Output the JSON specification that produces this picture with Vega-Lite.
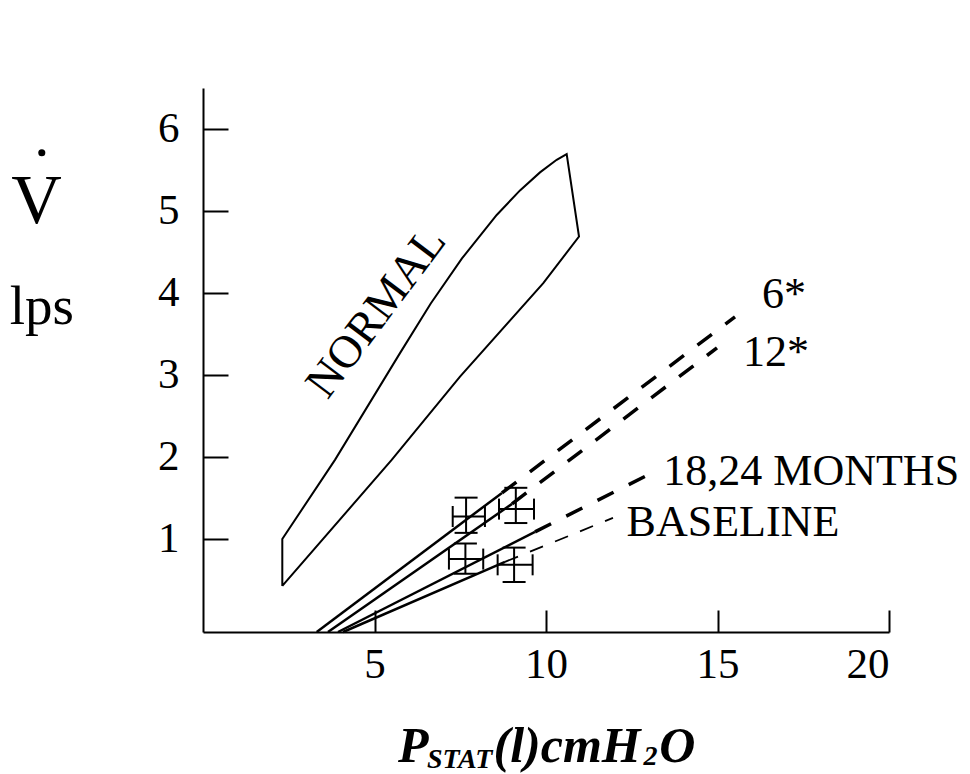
{
  "$schema": "https://vega.github.io/schema/vega-lite/v6.json",
  "width": 686,
  "height": 544,
  "autosize": {"type": "none"},
  "padding": {"left": 203, "top": 88, "right": 81, "bottom": 142},
  "background": "white",
  "config": {
    "view": {"stroke": null},
    "axis": {
      "domainColor": "black", "domainWidth": 2, "tickColor": "black", "tickWidth": 2,
      "labelColor": "black", "labelFont": "Liberation Serif", "labelFontSize": 43,
      "grid": false, "title": null
    }
  },
  "datasets": {
    "normal": [
      {"o": 1, "x": 2.312, "y": 0.422},
      {"o": 2, "x": 2.312, "y": 0.996},
      {"o": 3, "x": 3.848, "y": 1.961},
      {"o": 4, "x": 5.743, "y": 3.264},
      {"o": 5, "x": 6.64, "y": 3.87},
      {"o": 6, "x": 7.55, "y": 4.42},
      {"o": 7, "x": 8.563, "y": 4.95},
      {"o": 8, "x": 9.242, "y": 5.25},
      {"o": 9, "x": 9.825, "y": 5.47},
      {"o": 10, "x": 10.312, "y": 5.624},
      {"o": 11, "x": 10.603, "y": 5.694},
      {"o": 12, "x": 10.962, "y": 4.687},
      {"o": 13, "x": 9.921, "y": 4.118},
      {"o": 14, "x": 7.493, "y": 2.978},
      {"o": 15, "x": 5.501, "y": 1.961},
      {"o": 16, "x": 2.312, "y": 0.422}
    ],
    "lines": [
      {"s": "6*", "p": "solid", "o": 1, "x": 3.315, "y": -0.14},
      {"s": "6*", "p": "solid", "o": 2, "x": 8.717, "y": 1.558},
      {"s": "6*", "p": "dash", "o": 1, "x": 8.717, "y": 1.558},
      {"s": "6*", "p": "dash", "o": 2, "x": 15.51, "y": 3.707},
      {"s": "12*", "p": "solid", "o": 1, "x": 3.644, "y": -0.14},
      {"s": "12*", "p": "solid", "o": 2, "x": 9.009, "y": 1.424},
      {"s": "12*", "p": "dash", "o": 1, "x": 9.009, "y": 1.424},
      {"s": "12*", "p": "dash", "o": 2, "x": 14.985, "y": 3.328},
      {"s": "18,24", "p": "solid", "o": 1, "x": 3.936, "y": -0.14},
      {"s": "18,24", "p": "solid", "o": 2, "x": 9.679, "y": 1.082},
      {"s": "18,24", "p": "dash", "o": 1, "x": 9.679, "y": 1.082},
      {"s": "18,24", "p": "dash", "o": 2, "x": 13.09, "y": 1.802},
      {"s": "BASELINE", "p": "solid", "o": 1, "x": 4.082, "y": -0.14},
      {"s": "BASELINE", "p": "solid", "o": 2, "x": 8.805, "y": 0.716},
      {"s": "BASELINE", "p": "dash", "o": 1, "x": 8.805, "y": 0.716},
      {"s": "BASELINE", "p": "dash", "o": 2, "x": 11.953, "y": 1.253}
    ],
    "crosses": [
      {"x": 7.67, "y": 1.27, "xlo": 7.28, "xhi": 8.22, "ylo": 1.07, "yhi": 1.50},
      {"x": 9.12, "y": 1.36, "xlo": 8.63, "xhi": 9.65, "ylo": 1.19, "yhi": 1.62},
      {"x": 7.65, "y": 0.75, "xlo": 7.17, "xhi": 8.17, "ylo": 0.57, "yhi": 0.94},
      {"x": 9.07, "y": 0.68, "xlo": 8.59, "xhi": 9.61, "ylo": 0.47, "yhi": 0.89}
    ],
    "ann": [
      {"t": "6*", "x": 16.30, "y": 3.82},
      {"t": "12*", "x": 15.74, "y": 3.11},
      {"t": "18,24 MONTHS", "x": 13.42, "y": 1.656},
      {"t": "BASELINE", "x": 12.35, "y": 1.033}
    ],
    "normlab": [{"t": "NORMAL", "x": 5.05, "y": 3.76}],
    "vlab": [{"t": "V", "x": -4.85, "y": 4.855}],
    "vdot": [{"x": -4.70, "y": 5.71}],
    "unit": [{"t": "lps", "x": -4.70, "y": 3.62}],
    "xmain": [
      {"t": "P", "x": 5.685, "y": -1.723},
      {"t": "(l)cmH", "x": 8.47, "y": -1.723},
      {"t": "O", "x": 13.30, "y": -1.723}
    ],
    "xsub": [
      {"t": "STAT", "x": 6.53, "y": -1.80},
      {"t": "2", "x": 12.84, "y": -1.763}
    ]
  },
  "encoding": {
    "x": {"field": "x", "type": "quantitative",
      "scale": {"domain": [0, 20], "nice": false, "zero": false},
      "axis": {"values": [5, 10, 15, 20], "tickSize": -22, "labelPadding": 33, "title": null}},
    "y": {"field": "y", "type": "quantitative",
      "scale": {"domain": [-0.14, 6.5], "nice": false, "zero": false},
      "axis": {"values": [1, 2, 3, 4, 5, 6], "tickSize": -25, "labelPadding": 49, "title": null}}
  },
  "layer": [
    {
      "data": {"name": "normal"},
      "mark": {"type": "line", "color": "black", "strokeWidth": 2},
      "encoding": {"order": {"field": "o", "type": "quantitative"}}
    },
    {
      "data": {"name": "lines"},
      "transform": [{"filter": "datum.p == 'solid'"}],
      "mark": {"type": "line", "color": "black", "strokeWidth": 2.5},
      "encoding": {"detail": {"field": "s"}, "order": {"field": "o", "type": "quantitative"}}
    },
    {
      "data": {"name": "lines"},
      "transform": [{"filter": "datum.p == 'dash' && datum.s != 'BASELINE'"}],
      "mark": {"type": "line", "color": "black", "strokeWidth": 3.5, "strokeDash": [18, 17]},
      "encoding": {"detail": {"field": "s"}, "order": {"field": "o", "type": "quantitative"}}
    },
    {
      "data": {"name": "lines"},
      "transform": [{"filter": "datum.p == 'dash' && datum.s == 'BASELINE'"}],
      "mark": {"type": "line", "color": "black", "strokeWidth": 1.8, "strokeDash": [14, 13]},
      "encoding": {"detail": {"field": "s"}, "order": {"field": "o", "type": "quantitative"}}
    },
    {
      "data": {"name": "crosses"},
      "mark": {"type": "rule", "color": "black", "strokeWidth": 2},
      "encoding": {"y": {"field": "ylo", "type": "quantitative"}, "y2": {"field": "yhi"}}
    },
    {
      "data": {"name": "crosses"},
      "mark": {"type": "rule", "color": "black", "strokeWidth": 2},
      "encoding": {"x": {"field": "xlo", "type": "quantitative"}, "x2": {"field": "xhi"}}
    },
    {
      "data": {"name": "crosses"},
      "transform": [{"fold": ["ylo", "yhi"], "as": ["k", "yv"]}],
      "mark": {"type": "tick", "orient": "horizontal", "size": 23, "thickness": 2, "color": "black", "opacity": 1},
      "encoding": {"y": {"field": "yv", "type": "quantitative"}}
    },
    {
      "data": {"name": "crosses"},
      "transform": [{"fold": ["xlo", "xhi"], "as": ["k", "xv"]}],
      "mark": {"type": "tick", "orient": "vertical", "size": 21, "thickness": 2, "color": "black", "opacity": 1},
      "encoding": {"x": {"field": "xv", "type": "quantitative"}}
    },
    {
      "data": {"name": "ann"},
      "mark": {"type": "text", "align": "left", "baseline": "alphabetic", "font": "Liberation Serif", "fontSize": 44, "color": "black"},
      "encoding": {"text": {"field": "t"}}
    },
    {
      "data": {"name": "normlab"},
      "mark": {"type": "text", "align": "center", "baseline": "middle", "angle": 307, "font": "Liberation Serif", "fontSize": 46, "color": "black"},
      "encoding": {"text": {"field": "t"}}
    },
    {
      "data": {"name": "vlab"},
      "mark": {"type": "text", "align": "center", "baseline": "alphabetic", "font": "Liberation Serif", "fontSize": 70, "color": "black"},
      "encoding": {"text": {"field": "t"}}
    },
    {
      "data": {"name": "vdot"},
      "mark": {"type": "point", "shape": "circle", "filled": true, "size": 50, "color": "black", "opacity": 1}
    },
    {
      "data": {"name": "unit"},
      "mark": {"type": "text", "align": "center", "baseline": "alphabetic", "font": "Liberation Serif", "fontSize": 55, "color": "black"},
      "encoding": {"text": {"field": "t"}}
    },
    {
      "data": {"name": "xmain"},
      "mark": {"type": "text", "align": "left", "baseline": "alphabetic", "font": "Liberation Serif", "fontSize": 50, "fontWeight": "bold", "fontStyle": "italic", "color": "black"},
      "encoding": {"text": {"field": "t"}}
    },
    {
      "data": {"name": "xsub"},
      "mark": {"type": "text", "align": "left", "baseline": "alphabetic", "font": "Liberation Serif", "fontSize": 28, "fontWeight": "bold", "fontStyle": "italic", "color": "black"},
      "encoding": {"text": {"field": "t"}}
    }
  ]
}
